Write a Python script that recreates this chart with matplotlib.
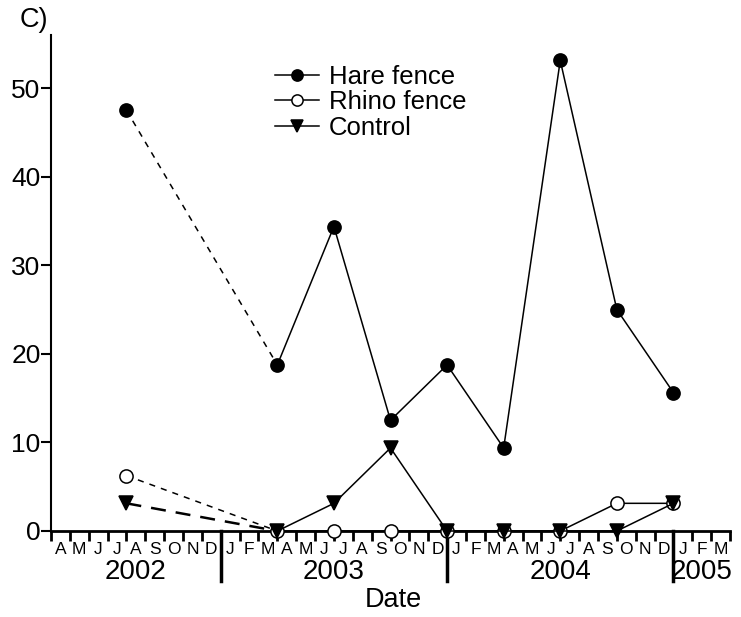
import matplotlib
matplotlib.use('Agg')
import matplotlib.pyplot as plt

plt.rcParams['font.family'] = ['Liberation Sans', 'DejaVu Sans']

# sampling dates as months counted from 1 April 2002
months = [4, 12, 15, 18, 21, 24, 27, 30, 33]
hare = [47.5, 18.75, 34.375, 12.5, 18.75, 9.375, 53.125, 25.0, 15.625]
rhino = [6.25, 0, 0, 0, 0, 0, 0, 3.125, 3.125]
control = [3.125, 0, 3.125, 9.375, 0, 0, 0, 0, 3.125]

month_letters = list("AMJJASONDJFMAMJJASONDJFMAMJJASONDJFM")
years = ['2002', '2003', '2004', '2005']
year_edges = [0, 9, 21, 33, 36]

fig = plt.figure(figsize=(7.41, 6.17), dpi=100)
ax = fig.add_axes([51/741, 86/617, 679/741, 496/617])

series = [
    (hare, 'Hare fence', 'o', 'k', (0, (4, 4)), 1.1),
    (rhino, 'Rhino fence', 'o', 'w', (0, (4, 4)), 1.1),
    (control, 'Control', 'v', 'k', (0, (6, 4)), 1.8),
]
for vals, name, mk, fc, dash, dlw in series:
    # first interval drawn dashed
    ax.plot(months[:2], vals[:2], color='k', lw=dlw, ls=dash, clip_on=False)
    ax.plot(months[1:], vals[1:], color='k', lw=1.1, marker=mk, mfc=fc,
            mec='k', mew=1.1, ms=9.5, clip_on=False, label=name, zorder=3)
    ax.plot(months[:1], vals[:1], ls='none', marker=mk, mfc=fc,
            mec='k', mew=1.1, ms=9.5, clip_on=False, zorder=3)

ax.set_xlim(0, 36)
ax.set_ylim(0, 56)
ax.spines['top'].set_visible(False)
ax.spines['right'].set_visible(False)
ax.spines['left'].set_linewidth(1.5)
ax.spines['bottom'].set_linewidth(2)

ax.set_yticks(range(0, 51, 10))
ax.tick_params(axis='y', labelsize=19, length=7, width=1.5, pad=0.5)

ax.set_xticks(range(0, 37))
ax.set_xticklabels([])
ax.set_xticks([m + 0.5 for m in range(36)], minor=True)
ax.set_xticklabels(month_letters, minor=True)
ax.tick_params(axis='x', which='major', length=7, width=2, direction='out')
ax.tick_params(axis='x', which='minor', length=0, labelsize=12.5, pad=8)

tr = ax.get_xaxis_transform()
for m in year_edges[1:-1]:
    ax.plot([m, m], [0, -0.1], transform=tr, color='k', lw=2.5, clip_on=False)
for i, y in enumerate(years):
    ax.text((year_edges[i] + year_edges[i + 1]) / 2, -0.083, y, transform=tr,
            ha='center', va='center', fontsize=20)

fig.text(393/741, 1 - 600/617, 'Date', ha='center', va='center', fontsize=19.5)
fig.text(20/741, 1 - 20/617, 'C)', ha='left', va='center', fontsize=19.5)

ax.legend(loc='upper left', bbox_to_anchor=(275/741, 1 - 65/617),
          bbox_transform=fig.transFigure, frameon=False, fontsize=18.5,
          handlelength=1.7, handletextpad=0.39, labelspacing=0.05,
          borderpad=0, borderaxespad=0, markerscale=0.85)

fig.savefig('out.png', dpi=100)
